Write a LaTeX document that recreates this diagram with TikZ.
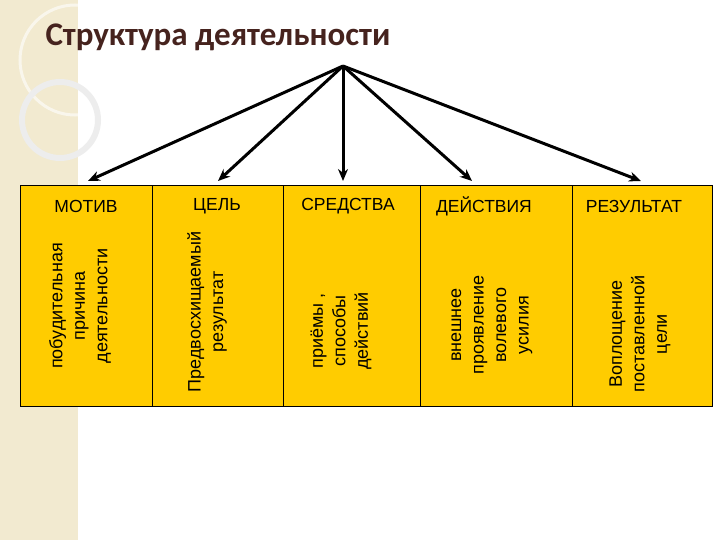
\documentclass[tikz,border=0pt]{standalone}
\usepackage{fontspec}
\usetikzlibrary{arrows.meta}
\setmainfont{Liberation Sans}
\newfontfamily\titlefont{Carlito}
\begin{document}
\begin{tikzpicture}[x=1pt,y=-1pt,
  cell/.style={draw=black,line width=1pt,fill=yelc},
  hdr/.style={font=\fontsize{17.5}{20}\selectfont,anchor=center},
  vtxt/.style={rotate=90,align=center,font=\fontsize{18}{22.5}\selectfont,anchor=center},
  arr/.style={-{Stealth[length=12pt,width=10pt]},line width=3pt}]
\definecolor{yelc}{RGB}{255,204,0}
\definecolor{beige}{RGB}{242,234,208}
\definecolor{titc}{RGB}{70,35,30}
\useasboundingbox (0,0) rectangle (720,540);
\fill[white] (0,0) rectangle (720,540);
\fill[beige] (0,0) rectangle (78,540);
\draw[white,line width=3pt,opacity=0.6] (75,60) circle (55);
\draw[black!7,line width=6pt] (60,120) circle (38);
\node[anchor=west,font=\titlefont\bfseries\fontsize{33}{36}\selectfont,text=titc] (title) at (42,37) {Структура деятельности};
\foreach \n/\a/\b in {c1/20/152,c2/152/283,c3/283/420,c4/420/572,c5/572/712}
  \draw[cell] (\a,186) rectangle (\b,406) coordinate[pos=0.5] (\n);
\node[hdr] (h1) at (86,206) {МОТИВ};
\node[hdr] (h2) at (217,206) {ЦЕЛЬ};
\node[hdr] (h3) at (348,206) {СРЕДСТВА};
\node[hdr] (h4) at (484,206) {ДЕЙСТВИЯ};
\node[hdr] (h5) at (634,206) {РЕЗУЛЬТАТ};
\node[vtxt] (t1) at (80,306) {побудительная\\причина\\деятельности};
\node[vtxt] (t2) at (207,312) {Предвосхищаемый\\результат};
\node[vtxt] (t3) at (341,331) {приёмы ,\\способы\\действий};
\node[vtxt] (t4) at (492,325) {внешнее\\проявление\\волевого\\усилия};
\node[vtxt] (t5) at (640,334) {Воплощение\\поставленной\\цели};
\coordinate (apex) at (343,66);
\coordinate (e1) at (88,181);
\coordinate (e2) at (218,181);
\coordinate (e3) at (343,181);
\coordinate (e4) at (472,181);
\coordinate (e5) at (641,181);
\foreach \e in {e1,e2,e3,e4,e5} \draw[arr] (apex) -- (\e);
\end{tikzpicture}
\end{document}
